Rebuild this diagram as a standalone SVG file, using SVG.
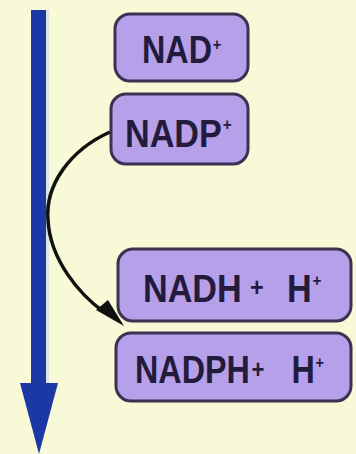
<svg xmlns="http://www.w3.org/2000/svg" width="356" height="454" viewBox="0 0 356 454">
  <defs>
    <style>
      .box { fill: #b7a0ea; stroke: #3b3150; stroke-width: 3; }
      .lbl { font-family: "Liberation Sans", Arial, sans-serif; font-size: 38px; font-weight: bold; fill: #231b3c; }
      .pl { font-size: 26px; }
      .sup { font-size: 17px; }
    </style>
  </defs>
  <rect x="0" y="0" width="356" height="454" fill="#f8f9d6"/>

  <g id="axis">
    <rect x="31" y="10" width="15" height="375" fill="#1c37a6"/>
    <rect x="46" y="10" width="3" height="375" fill="#c9d7f0" opacity="0.6"/>
    <polygon points="20,383 58,383 39,454" fill="#1c37a6"/>
  </g>

  <g id="connectors">
    <path d="M110,132 C70,150 45,185 48,220 C50,260 80,295 104,312" fill="none" stroke="#111" stroke-width="3.5"/>
    <polygon points="96,310 108,300 124,326" fill="#111"/>
  </g>

  <g id="nad">
    <rect class="box" x="115" y="14" width="133" height="67" rx="15"/>
    <text class="lbl" transform="translate(142,63) scale(0.85,1)" x="0" y="0">NAD<tspan class="sup" dx="1" dy="-13">+</tspan></text>
  </g>

  <g id="nadp">
    <rect class="box" x="111" y="94" width="137" height="70" rx="15"/>
    <text class="lbl" transform="translate(125,147) scale(0.9,1)" x="0" y="0">NADP<tspan class="sup" dx="1" dy="-17">+</tspan></text>
  </g>

  <g id="nadh">
    <rect class="box" x="118" y="249" width="233" height="72" rx="15"/>
    <text class="lbl" transform="translate(143,302) scale(0.9,1)" x="0" y="0">NADH<tspan class="pl" x="119" dy="-6">+</tspan><tspan x="160" dy="6">H</tspan><tspan class="sup" dx="1" dy="-16">+</tspan></text>
  </g>

  <g id="nadph">
    <rect class="box" x="116" y="333" width="235" height="68" rx="15"/>
    <text class="lbl" transform="translate(135,383) scale(0.85,1)" x="0" y="0">NADPH<tspan class="pl" x="137" dy="-5">+</tspan><tspan x="184" dy="5">H</tspan><tspan class="sup" dx="1" dy="-15">+</tspan></text>
  </g>
</svg>
